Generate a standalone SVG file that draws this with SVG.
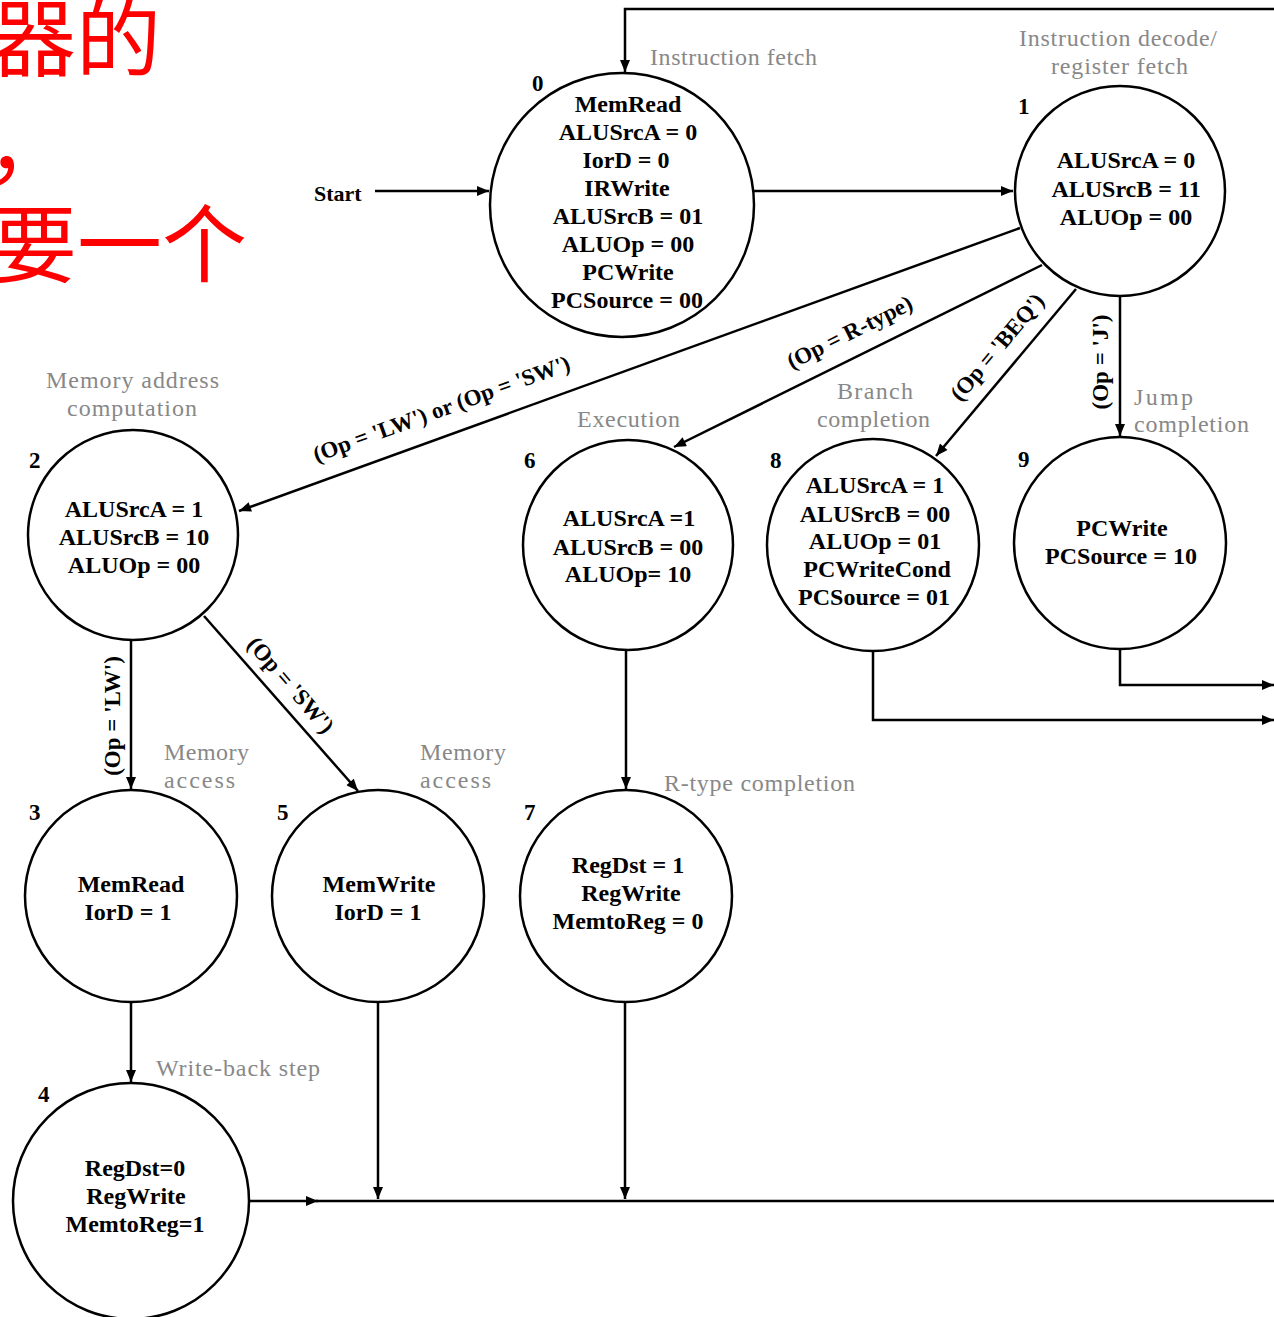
<svg xmlns="http://www.w3.org/2000/svg" width="1274" height="1317" viewBox="0 0 1274 1317">
<style>
.st{fill:#fff;stroke:#000;stroke-width:2.5}
.nt{font-family:"Liberation Serif","Times New Roman",serif;font-size:24px;font-weight:bold;fill:#000;text-anchor:middle}
.num{font-family:"Liberation Serif","Times New Roman",serif;font-size:23px;font-weight:bold;fill:#000}
.gl{font-family:"Liberation Serif","Times New Roman",serif;font-size:24px;fill:#888}
.el{font-family:"Liberation Serif","Times New Roman",serif;font-size:23px;font-weight:bold;fill:#000;text-anchor:middle}
.cn{fill:none;stroke:#000;stroke-width:2.5}
.ar{marker-end:url(#ah)}
.cjk{font-family:"Noto Sans CJK SC",sans-serif;font-size:85px;fill:#ff0000}
</style>
<defs>
<marker id="ah" viewBox="0 0 12 10" refX="12" refY="5" markerWidth="13" markerHeight="10" orient="auto" markerUnits="userSpaceOnUse">
<path d="M0,0 L12,5 L0,10 Z" fill="#000"/>
</marker>
</defs>
<rect width="1274" height="1317" fill="#fff"/>
<g id="red-text">
<text class="cjk" x="161" y="70" text-anchor="end">器的</text>
<text class="cjk" x="-14" y="176">，</text>
<text class="cjk" x="247" y="276" text-anchor="end">要一个</text>
</g>
<g id="connectors">
<path class="cn ar" d="M1274,9 H625 V72"/>
<path class="cn ar" d="M375,191 H489"/>
<path class="cn ar" d="M754,191 H1013"/>
<path class="cn ar" d="M1020,228 L239,511"/>
<path class="cn ar" d="M1042,265 L674,447"/>
<path class="cn ar" d="M1076,289 L936,456"/>
<path class="cn ar" d="M1120,296 V436"/>
<path class="cn ar" d="M131,640 V789"/>
<path class="cn ar" d="M204,616 L358,791"/>
<path class="cn ar" d="M626,650 V789"/>
<path class="cn ar" d="M131,1002 V1082"/>
<path class="cn ar" d="M378,1002 V1199"/>
<path class="cn ar" d="M625,1002 V1199"/>
<path class="cn ar" d="M249,1201 H318"/>
<path class="cn" d="M316,1201 H1274"/>
<path class="cn ar" d="M1120,649 V685 H1274"/>
<path class="cn ar" d="M873,650 V720 H1274"/>
<text class="num" x="314" y="201" style="font-size:22px">Start</text>
<text class="el" transform="translate(444,416) rotate(-20)">(Op = 'LW') or (Op = 'SW')</text>
<text class="el" transform="translate(853,339) rotate(-26.5)">(Op = R-type)</text>
<text class="el" transform="translate(1003,352) rotate(-50)">(Op = 'BEQ')</text>
<text class="el" transform="translate(1108,362) rotate(-90)">(Op = 'J')</text>
<text class="el" transform="translate(120,716) rotate(-90)">(Op = 'LW')</text>
<text class="el" transform="translate(285,690) rotate(49)">(Op = 'SW')</text>
</g>
<g id="labels">
<text class="gl" x="650" y="65" textLength="167" lengthAdjust="spacing">Instruction fetch</text>
<text class="gl" x="1019" y="46" textLength="198" lengthAdjust="spacing">Instruction decode/</text>
<text class="gl" x="1051" y="74" textLength="137" lengthAdjust="spacing">register fetch</text>
<text class="gl" x="46" y="388" textLength="173" lengthAdjust="spacing">Memory address</text>
<text class="gl" x="67" y="416" textLength="130" lengthAdjust="spacing">computation</text>
<text class="gl" x="577" y="427" textLength="103" lengthAdjust="spacing">Execution</text>
<text class="gl" x="837" y="399" textLength="76" lengthAdjust="spacing">Branch</text>
<text class="gl" x="817" y="427" textLength="113" lengthAdjust="spacing">completion</text>
<text class="gl" x="1134" y="405" textLength="59" lengthAdjust="spacing">Jump</text>
<text class="gl" x="1134" y="432" textLength="115" lengthAdjust="spacing">completion</text>
<text class="gl" x="164" y="760" textLength="85" lengthAdjust="spacing">Memory</text>
<text class="gl" x="164" y="788" textLength="71" lengthAdjust="spacing">access</text>
<text class="gl" x="420" y="760" textLength="86" lengthAdjust="spacing">Memory</text>
<text class="gl" x="420" y="788" textLength="71" lengthAdjust="spacing">access</text>
<text class="gl" x="664" y="791" textLength="191" lengthAdjust="spacing">R-type completion</text>
<text class="gl" x="156" y="1076" textLength="164" lengthAdjust="spacing">Write-back step</text>
</g>
<g id="node0">
<circle class="st" cx="622" cy="205" r="132"/>
<text class="num" x="532" y="91">0</text>
<text class="nt" x="628" y="112">MemRead</text>
<text class="nt" x="628" y="140">ALUSrcA = 0</text>
<text class="nt" x="626" y="168">IorD = 0</text>
<text class="nt" x="627" y="196">IRWrite</text>
<text class="nt" x="628" y="224">ALUSrcB = 01</text>
<text class="nt" x="628" y="252">ALUOp = 00</text>
<text class="nt" x="628" y="280">PCWrite</text>
<text class="nt" x="627" y="308">PCSource = 00</text>
</g>
<g id="node1">
<circle class="st" cx="1120" cy="191" r="105"/>
<text class="num" x="1018" y="114">1</text>
<text class="nt" x="1126" y="168">ALUSrcA = 0</text>
<text class="nt" x="1126" y="197">ALUSrcB = 11</text>
<text class="nt" x="1126" y="225">ALUOp = 00</text>
</g>
<g id="node2">
<circle class="st" cx="133" cy="535" r="105"/>
<text class="num" x="29" y="468">2</text>
<text class="nt" x="134" y="517">ALUSrcA = 1</text>
<text class="nt" x="134" y="545">ALUSrcB = 10</text>
<text class="nt" x="134" y="573">ALUOp = 00</text>
</g>
<g id="node6">
<circle class="st" cx="628" cy="545" r="105"/>
<text class="num" x="524" y="468">6</text>
<text class="nt" x="629" y="526">ALUSrcA =1</text>
<text class="nt" x="628" y="555">ALUSrcB = 00</text>
<text class="nt" x="628" y="582">ALUOp= 10</text>
</g>
<g id="node8">
<circle class="st" cx="873" cy="545" r="106"/>
<text class="num" x="770" y="468">8</text>
<text class="nt" x="875" y="493">ALUSrcA = 1</text>
<text class="nt" x="875" y="522">ALUSrcB = 00</text>
<text class="nt" x="875" y="549">ALUOp = 01</text>
<text class="nt" x="877" y="577">PCWriteCond</text>
<text class="nt" x="874" y="605">PCSource = 01</text>
</g>
<g id="node9">
<circle class="st" cx="1120" cy="543" r="106"/>
<text class="num" x="1018" y="467">9</text>
<text class="nt" x="1122" y="536">PCWrite</text>
<text class="nt" x="1121" y="564">PCSource = 10</text>
</g>
<g id="node3">
<circle class="st" cx="131" cy="896" r="106"/>
<text class="num" x="29" y="820">3</text>
<text class="nt" x="131" y="892">MemRead</text>
<text class="nt" x="128" y="920">IorD = 1</text>
</g>
<g id="node5">
<circle class="st" cx="378" cy="896" r="106"/>
<text class="num" x="277" y="820">5</text>
<text class="nt" x="379" y="892">MemWrite</text>
<text class="nt" x="378" y="920">IorD = 1</text>
</g>
<g id="node7">
<circle class="st" cx="626" cy="896" r="106"/>
<text class="num" x="524" y="820">7</text>
<text class="nt" x="628" y="873">RegDst = 1</text>
<text class="nt" x="631" y="901">RegWrite</text>
<text class="nt" x="628" y="929">MemtoReg = 0</text>
</g>
<g id="node4">
<circle class="st" cx="131" cy="1201" r="118"/>
<text class="num" x="38" y="1102">4</text>
<text class="nt" x="135" y="1176">RegDst=0</text>
<text class="nt" x="136" y="1204">RegWrite</text>
<text class="nt" x="135" y="1232">MemtoReg=1</text>
</g>
</svg>
